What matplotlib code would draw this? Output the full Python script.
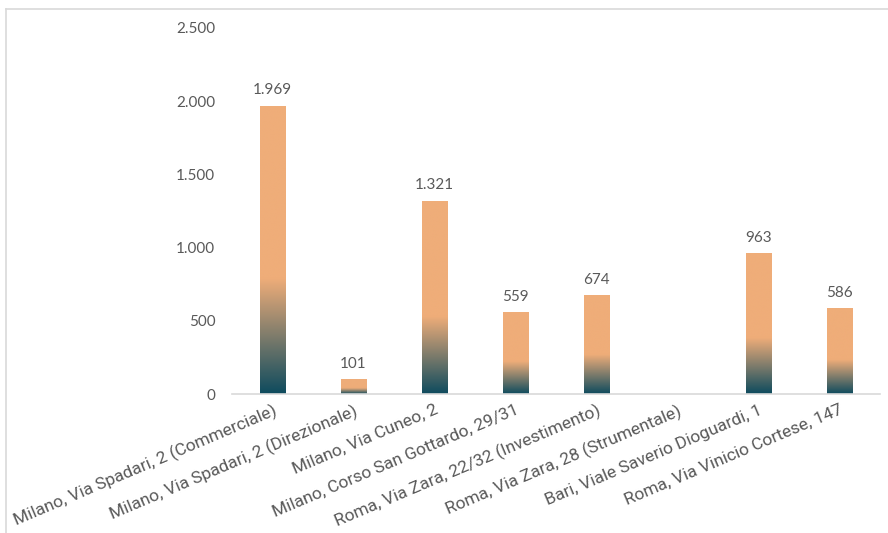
import numpy as np
import matplotlib
matplotlib.use("Agg")
import matplotlib.pyplot as plt
from matplotlib.colors import LinearSegmentedColormap, to_rgb
from matplotlib.lines import Line2D

categories = [
    "Milano, Via Spadari, 2 (Commerciale)",
    "Milano, Via Spadari, 2 (Direzionale)",
    "Milano, Via Cuneo, 2",
    "Milano, Corso San Gottardo, 29/31",
    "Roma, Via Zara, 22/32 (Investimento)",
    "Roma, Via Zara, 28 (Strumentale)",
    "Bari, Viale Saverio Dioguardi, 1",
    "Roma, Via Vinicio Cortese, 147",
]
values = [1969, 101, 1321, 559, 674, None, 963, 586]
y_ticks = [0, 500, 1000, 1500, 2000, 2500]

TEXT = "#595959"
DARK = "#0E4B5E"
ORANGE = "#EFAD79"


def fmt(v):
    return f"{v:,.0f}".replace(",", ".")


fig = plt.figure(figsize=(8.88, 5.33), dpi=100)
ax = fig.add_axes([232 / 888, 1 - 394 / 533, 648 / 888, 366 / 533])

# gradient: dark teal at the base, blending into orange over the lower 40% of each bar
cmap = LinearSegmentedColormap.from_list(
    "bar", [(0.0, to_rgb(DARK)), (0.40, to_rgb(ORANGE)), (1.0, to_rgb(ORANGE))]
)
grad = np.linspace(0, 1, 256).reshape(-1, 1)

width = 26 / 81
x = np.arange(len(categories))
for xi, v in zip(x, values):
    if v is None:
        continue
    x0, x1 = xi - width / 2, xi + width / 2
    bar = ax.bar(xi, v, width=width, color="none", edgecolor="none")[0]
    im = ax.imshow(grad, extent=[x0, x1, 0, v], origin="lower", cmap=cmap,
                   aspect="auto", interpolation="bicubic", zorder=2)
    im.set_clip_path(bar)
    ax.annotate(fmt(v), (xi, v), xytext=(0, 6), textcoords="offset points",
                ha="center", va="bottom", fontsize=11, color=TEXT,
                family=["Lato", "DejaVu Sans"])

ax.set_xlim(-0.5, len(categories) - 0.5)
ax.set_ylim(0, 2500)
ax.set_yticks(y_ticks)
ax.set_yticklabels([fmt(t) for t in y_ticks], fontsize=11, color=TEXT,
                   family=["Lato", "DejaVu Sans"])
ax.set_xticks(x)
ax.set_xticklabels(categories, rotation=23, ha="right", va="top",
                   rotation_mode="anchor", fontsize=12.5, color=TEXT,
                   family=["Roboto", "DejaVu Sans"])
ax.tick_params(axis="y", length=0, pad=12)
ax.tick_params(axis="x", length=0, pad=6)

for side in ["top", "right", "left"]:
    ax.spines[side].set_visible(False)
ax.spines["bottom"].set_color("#D9D9D9")
ax.spines["bottom"].set_linewidth(1.2)
ax.spines["bottom"].set_zorder(3)

# outer frame edges
fig.add_artist(Line2D([6 / 888, 1], [1 - 9 / 533, 1 - 9 / 533],
                      transform=fig.transFigure, color="#D9D9D9", lw=1.2))
fig.add_artist(Line2D([6 / 888, 6 / 888], [0, 1 - 9 / 533],
                      transform=fig.transFigure, color="#D9D9D9", lw=1.2))

fig.savefig("out.png", dpi=100, facecolor="white")
